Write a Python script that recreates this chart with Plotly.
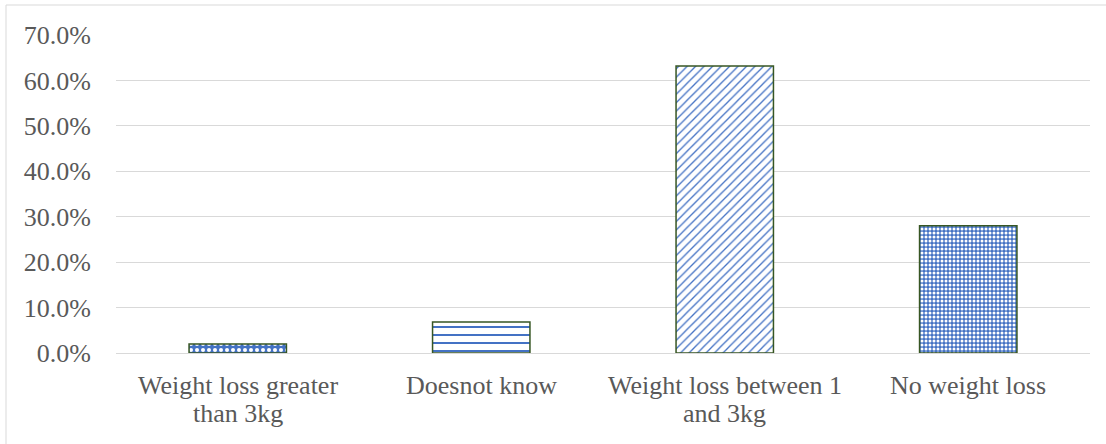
import plotly.graph_objects as go

categories = ["Weight loss greater than 3kg", "Doesnot know", "Weight loss between 1 and 3kg", "No weight loss"]
label_lines = [["Weight loss greater", "than 3kg"], ["Doesnot know"], ["Weight loss between 1", "and 3kg"], ["No weight loss"]]
values = [2.0, 6.8, 63.2, 28.0]
tick_vals = [0, 10, 20, 30, 40, 50, 60, 70]
tick_text = ["0.0%", "10.0%", "20.0%", "30.0%", "40.0%", "50.0%", "60.0%", "70.0%"]

blue = "#4472c4"
fig = go.Figure(go.Bar(
    x=categories, y=values, width=0.4,
    marker=dict(
        color="white",
        line=dict(color="#375623", width=1.5),
        pattern=dict(
            shape=[".", "-", "/", "."],
            fgcolor=["white", blue, blue, "white"],
            bgcolor=[blue, "white", "white", blue],
            size=[6, 8, 6, 4],
            solidity=[0.35, 0.25, 0.22, 0.45],
            fillmode="replace",
        ),
    ),
))

for cat, lines in zip(categories, label_lines):
    for i, line in enumerate(lines):
        fig.add_annotation(x=cat, xref="x", y=0, yref="paper", text=line,
                           showarrow=False, yanchor="middle", yshift=-32 - 28 * i,
                           font=dict(family="Liberation Serif", size=26, color="#595959"))

W, H = 1106, 444
ml, mr, mt, mb = 116, 16, 35, 91
pw = W - ml - mr
ph = H - mt - mb
fig.add_shape(type="rect", xref="paper", yref="paper",
              x0=(6 - ml) / pw, x1=(W + 5 - ml) / pw,
              y0=-(H + 5 - mt - ph) / ph, y1=(H - 5 - mb) / ph,
              line=dict(color="#d9d9d9", width=1), layer="below")

fig.update_layout(
    width=W, height=H,
    margin=dict(l=ml, r=mr, t=mt, b=mb, autoexpand=False),
    plot_bgcolor="white", paper_bgcolor="white",
    font=dict(family="Liberation Serif", size=26, color="#595959"),
    showlegend=False,
    bargap=0.6,
)
fig.update_yaxes(range=[0, 70], tickvals=tick_vals, ticktext=tick_text,
                 showgrid=True, gridcolor="#d9d9d9", gridwidth=1,
                 zeroline=False, showline=False, ticklabelstandoff=24,
                 automargin=False)
fig.update_xaxes(showline=True, linecolor="#d9d9d9", linewidth=1,
                 ticks="", showticklabels=False, automargin=False)
fig.write_html("out.html", config={"displayModeBar": False},
               post_script="document.body.style.margin='0';document.body.style.overflow='hidden';")
